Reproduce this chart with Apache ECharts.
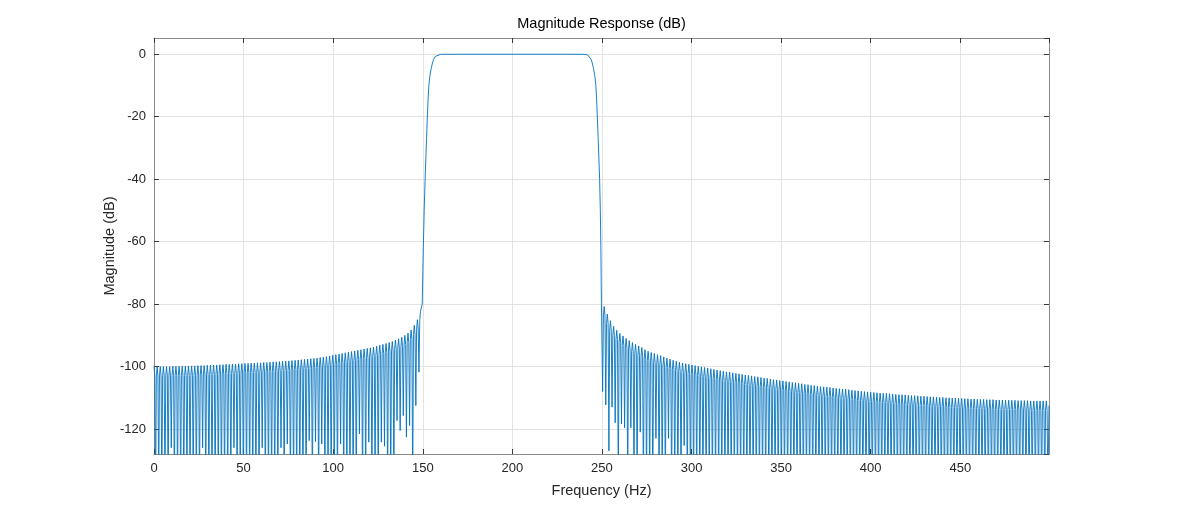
<!DOCTYPE html>
<html>
<head>
<meta charset="utf-8">
<script src="https://cdn.jsdelivr.net/npm/echarts@6/dist/echarts.min.js"></script>
<style>
html,body{margin:0;padding:0;background:#fff;}
#chart{width:1184px;height:511px;}
</style>
</head>
<body>
<div id="chart"></div>
<script>
// Stopband below 150 Hz: [frequency Hz, magnitude dB] (lobe shoulders, peaks and nulls)
const lowBand = [
[0,-100],[0.44,-103],[0.88,-140],
[1.31,-103],[1.75,-100],[2.19,-103],[2.63,-140],
[3.06,-103],[3.5,-100],[3.94,-103],[4.38,-140],
[4.81,-103],[5.25,-100],[5.69,-103],[6.13,-140],
[6.56,-103],[7,-100],[7.44,-103],[7.88,-140],
[8.31,-103],[8.75,-100],[9.19,-103],[9.63,-126],
[10.06,-102.9],[10.5,-99.9],[10.94,-102.9],[11.38,-140],
[11.81,-102.9],[12.25,-99.9],[12.69,-102.9],[13.13,-140],
[13.56,-102.9],[14,-99.9],[14.44,-102.9],[14.88,-140],
[15.31,-102.9],[15.75,-99.9],[16.19,-102.9],[16.63,-140],
[17.06,-102.9],[17.5,-99.9],[17.94,-102.9],[18.38,-140],
[18.81,-102.8],[19.25,-99.8],[19.69,-102.8],[20.13,-140],
[20.56,-102.8],[21,-99.8],[21.44,-102.8],[21.88,-140],
[22.31,-102.8],[22.75,-99.8],[23.19,-102.8],[23.63,-140],
[24.06,-102.7],[24.5,-99.7],[24.94,-102.7],[25.38,-140],
[25.81,-102.7],[26.25,-99.7],[26.69,-102.7],[27.13,-126],
[27.56,-102.7],[28,-99.7],[28.44,-102.7],[28.88,-140],
[29.31,-102.6],[29.75,-99.6],[30.19,-102.6],[30.63,-140],
[31.06,-102.6],[31.5,-99.6],[31.94,-102.6],[32.38,-140],
[32.81,-102.5],[33.25,-99.5],[33.69,-102.5],[34.13,-140],
[34.56,-102.5],[35,-99.5],[35.44,-102.5],[35.88,-140],
[36.31,-102.4],[36.75,-99.4],[37.19,-102.4],[37.63,-140],
[38.06,-102.4],[38.5,-99.4],[38.94,-102.4],[39.38,-140],
[39.81,-102.3],[40.25,-99.3],[40.69,-102.3],[41.13,-140],
[41.56,-102.3],[42,-99.3],[42.44,-102.3],[42.88,-140],
[43.31,-102.2],[43.75,-99.2],[44.19,-102.2],[44.63,-126],
[45.06,-102.2],[45.5,-99.2],[45.94,-102.2],[46.38,-140],
[46.81,-102.1],[47.25,-99.1],[47.69,-102.1],[48.13,-140],
[48.56,-102.1],[49,-99.1],[49.44,-102.1],[49.88,-140],
[50.31,-102],[50.75,-99],[51.19,-102],[51.63,-140],
[52.06,-102],[52.5,-99],[52.94,-102],[53.38,-140],
[53.81,-101.9],[54.25,-98.9],[54.69,-101.9],[55.13,-140],
[55.56,-101.9],[56,-98.9],[56.44,-101.9],[56.88,-140],
[57.31,-101.8],[57.75,-98.8],[58.19,-101.8],[58.63,-140],
[59.06,-101.8],[59.5,-98.8],[59.94,-101.8],[60.38,-126],
[60.81,-101.7],[61.25,-98.7],[61.69,-101.7],[62.13,-140],
[62.56,-101.7],[63,-98.7],[63.44,-101.7],[63.88,-140],
[64.31,-101.6],[64.75,-98.6],[65.19,-101.6],[65.63,-140],
[66.06,-101.5],[66.5,-98.5],[66.94,-101.5],[67.38,-140],
[67.81,-101.5],[68.25,-98.5],[68.69,-101.5],[69.13,-140],
[69.56,-101.4],[70,-98.4],[70.44,-101.4],[70.88,-126],
[71.31,-101.3],[71.75,-98.3],[72.19,-101.3],[72.63,-140],
[73.06,-101.3],[73.5,-98.3],[73.94,-101.3],[74.38,-124.8],
[74.81,-101.2],[75.25,-98.2],[75.69,-101.2],[76.13,-140],
[76.56,-101.1],[77,-98.1],[77.44,-101.1],[77.88,-140],
[78.31,-101],[78.75,-98],[79.19,-101],[79.63,-140],
[80.06,-100.9],[80.5,-97.9],[80.94,-100.9],[81.38,-140],
[81.81,-100.8],[82.25,-97.8],[82.69,-100.8],[83.13,-140],
[83.56,-100.7],[84,-97.7],[84.44,-100.7],[84.88,-140],
[85.31,-100.6],[85.75,-97.6],[86.19,-100.6],[86.63,-123.7],
[87.06,-100.5],[87.5,-97.5],[87.94,-100.5],[88.38,-140],
[88.81,-100.4],[89.25,-97.4],[89.69,-100.4],[90.13,-124],
[90.56,-100.3],[91,-97.3],[91.44,-100.3],[91.88,-140],
[92.31,-100.1],[92.75,-97.1],[93.19,-100.1],[93.63,-124.8],
[94.06,-100],[94.5,-97],[94.94,-100],[95.38,-140],
[95.81,-99.8],[96.25,-96.8],[96.69,-99.8],[97.13,-140],
[97.56,-99.6],[98,-96.6],[98.44,-99.6],[98.88,-140],
[99.31,-99.4],[99.75,-96.4],[100.19,-99.4],[100.63,-140],
[101.06,-99.2],[101.5,-96.2],[101.94,-99.2],[102.38,-140],
[102.81,-99],[103.25,-96],[103.69,-99],[104.13,-124.8],
[104.56,-98.8],[105,-95.8],[105.44,-98.8],[105.88,-140],
[106.31,-98.6],[106.75,-95.6],[107.19,-98.6],[107.63,-140],
[108.06,-98.4],[108.5,-95.4],[108.94,-98.4],[109.38,-140],
[109.81,-98.2],[110.25,-95.2],[110.69,-98.2],[111.13,-140],
[111.56,-98],[112,-95],[112.44,-98],[112.88,-140],
[113.31,-97.8],[113.75,-94.8],[114.19,-97.8],[114.63,-121.6],
[115.06,-97.6],[115.5,-94.6],[115.94,-97.6],[116.38,-140],
[116.81,-97.4],[117.25,-94.4],[117.69,-97.4],[118.13,-140],
[118.56,-97.2],[119,-94.2],[119.44,-97.2],[119.88,-124.2],
[120.31,-97],[120.75,-94],[121.19,-97],[121.63,-140],
[122.06,-96.8],[122.5,-93.8],[122.94,-96.8],[123.38,-140],
[123.81,-96.5],[124.25,-93.5],[124.69,-96.5],[125.13,-140],
[125.56,-96.2],[126,-93.2],[126.44,-96.2],[126.88,-124.2],
[127.31,-95.9],[127.75,-92.9],[128.19,-95.9],[128.63,-125.5],
[129.06,-95.6],[129.5,-92.6],[129.94,-95.6],[130.38,-140],
[130.81,-95.3],[131.25,-92.3],[131.69,-95.3],[132.13,-140],
[132.56,-95],[133,-92],[133.44,-95],[133.88,-140],
[134.31,-94.5],[134.75,-91.5],[135.19,-94.5],[135.63,-117.3],
[136.06,-94.1],[136.5,-91.1],[136.94,-94.1],[137.38,-120.5],
[137.81,-93.6],[138.25,-90.6],[138.69,-93.6],[139.13,-115.7],
[139.56,-93],[140,-90],[140.44,-93],[140.88,-122.6],
[141.31,-92.3],[141.75,-89.3],[142.19,-92.3],[142.63,-118.9],
[143.06,-91.3],[143.5,-88.3],[143.94,-91.3],[144.38,-140],
[144.81,-89.8],[145.25,-86.8],[145.69,-89.8],[146.13,-112.5],
[146.56,-88],[147,-85],[147.44,-88],[147.88,-101.8],
[148.31,-85.3],[148.75,-82.3]
];

// Passband with its two transition edges
const passBand = [
[149.7,-80],[150.3,-62],[150.8,-50],[151.3,-40],[151.8,-32],[152.1,-27],[152.5,-21],[153,-14],[153.4,-10],[154,-6.8],
[154.7,-4.6],[155.4,-2.8],[156.1,-1.6],[157,-0.7],[158,-0.2],[160,-0.02],[170,0],[230,0],[240,-0.02],[242,-0.2],
[243,-0.7],[243.9,-1.6],[244.6,-2.8],[245.3,-4.6],[246,-6.8],[246.6,-10],[247,-14],[247.5,-21],[247.9,-27],[248.2,-32],
[248.7,-40],[249.1,-50],[249.4,-62],[249.7,-79.5]
];

// Stopband above 250 Hz
const highBand = [
[250.38,-108],[250.81,-83.8],[251.25,-80.8],[251.69,-83.8],
[252.13,-112.3],[252.56,-86.2],[253,-83.2],[253.44,-86.2],
[253.88,-127],[254.31,-88.3],[254.75,-85.3],[255.19,-88.3],
[255.63,-113],[256.06,-90.1],[256.5,-87.1],[256.94,-90.1],
[257.38,-118],[257.81,-91.4],[258.25,-88.4],[258.69,-91.4],
[259.13,-140],[259.56,-92.4],[260,-89.4],[260.44,-92.4],
[260.88,-118.4],[261.31,-93.2],[261.75,-90.2],[262.19,-93.2],
[262.63,-119.6],[263.06,-94],[263.5,-91],[263.94,-94],
[264.38,-140],[264.81,-94.7],[265.25,-91.7],[265.69,-94.7],
[266.13,-119.6],[266.56,-95.3],[267,-92.3],[267.44,-95.3],
[267.88,-140],[268.31,-95.9],[268.75,-92.9],[269.19,-95.9],
[269.63,-140],[270.06,-96.4],[270.5,-93.4],[270.94,-96.4],
[271.38,-121],[271.81,-96.9],[272.25,-93.9],[272.69,-96.9],
[273.13,-140],[273.56,-97.6],[274,-94.6],[274.44,-97.6],
[274.88,-140],[275.31,-98.1],[275.75,-95.1],[276.19,-98.1],
[276.63,-140],[277.06,-98.5],[277.5,-95.5],[277.94,-98.5],
[278.38,-140],[278.81,-98.8],[279.25,-95.8],[279.69,-98.8],
[280.13,-123],[280.56,-99.2],[281,-96.2],[281.44,-99.2],
[281.88,-140],[282.31,-99.5],[282.75,-96.5],[283.19,-99.5],
[283.63,-140],[284.06,-99.9],[284.5,-96.9],[284.94,-99.9],
[285.38,-140],[285.81,-100.3],[286.25,-97.3],[286.69,-100.3],
[287.13,-123],[287.56,-100.6],[288,-97.6],[288.44,-100.6],
[288.88,-140],[289.31,-101],[289.75,-98],[290.19,-101],
[290.63,-140],[291.06,-101.3],[291.5,-98.3],[291.94,-101.3],
[292.38,-140],[292.81,-101.6],[293.25,-98.6],[293.69,-101.6],
[294.13,-140],[294.56,-101.9],[295,-98.9],[295.44,-101.9],
[295.88,-125.3],[296.31,-102.1],[296.75,-99.1],[297.19,-102.1],
[297.63,-140],[298.06,-102.3],[298.5,-99.3],[298.94,-102.3],
[299.38,-140],[299.81,-102.5],[300.25,-99.5],[300.69,-102.5],
[301.13,-140],[301.56,-102.7],[302,-99.7],[302.44,-102.7],
[302.88,-140],[303.31,-102.9],[303.75,-99.9],[304.19,-102.9],
[304.63,-140],[305.06,-103.1],[305.5,-100.1],[305.94,-103.1],
[306.38,-140],[306.81,-103.3],[307.25,-100.3],[307.69,-103.3],
[308.13,-140],[308.56,-103.5],[309,-100.5],[309.44,-103.5],
[309.88,-140],[310.31,-103.7],[310.75,-100.7],[311.19,-103.7],
[311.63,-140],[312.06,-103.9],[312.5,-100.9],[312.94,-103.9],
[313.38,-140],[313.81,-104.1],[314.25,-101.1],[314.69,-104.1],
[315.13,-140],[315.56,-104.3],[316,-101.3],[316.44,-104.3],
[316.88,-140],[317.31,-104.5],[317.75,-101.5],[318.19,-104.5],
[318.63,-140],[319.06,-104.7],[319.5,-101.7],[319.94,-104.7],
[320.38,-140],[320.81,-104.8],[321.25,-101.8],[321.69,-104.8],
[322.13,-140],[322.56,-105],[323,-102],[323.44,-105],
[323.88,-140],[324.31,-105.2],[324.75,-102.2],[325.19,-105.2],
[325.63,-140],[326.06,-105.3],[326.5,-102.3],[326.94,-105.3],
[327.38,-140],[327.81,-105.5],[328.25,-102.5],[328.69,-105.5],
[329.13,-140],[329.56,-105.7],[330,-102.7],[330.44,-105.7],
[330.88,-140],[331.31,-105.8],[331.75,-102.8],[332.19,-105.8],
[332.63,-140],[333.06,-106],[333.5,-103],[333.94,-106],
[334.38,-140],[334.81,-106.2],[335.25,-103.2],[335.69,-106.2],
[336.13,-140],[336.56,-106.3],[337,-103.3],[337.44,-106.3],
[337.88,-140],[338.31,-106.5],[338.75,-103.5],[339.19,-106.5],
[339.63,-140],[340.06,-106.7],[340.5,-103.7],[340.94,-106.7],
[341.38,-140],[341.81,-106.8],[342.25,-103.8],[342.69,-106.8],
[343.13,-140],[343.56,-107],[344,-104],[344.44,-107],
[344.88,-140],[345.31,-107.2],[345.75,-104.2],[346.19,-107.2],
[346.63,-140],[347.06,-107.3],[347.5,-104.3],[347.94,-107.3],
[348.38,-140],[348.81,-107.5],[349.25,-104.5],[349.69,-107.5],
[350.13,-140],[350.56,-107.6],[351,-104.6],[351.44,-107.6],
[351.88,-140],[352.31,-107.8],[352.75,-104.8],[353.19,-107.8],
[353.63,-140],[354.06,-107.9],[354.5,-104.9],[354.94,-107.9],
[355.38,-140],[355.81,-108.1],[356.25,-105.1],[356.69,-108.1],
[357.13,-140],[357.56,-108.2],[358,-105.2],[358.44,-108.2],
[358.88,-140],[359.31,-108.4],[359.75,-105.4],[360.19,-108.4],
[360.63,-140],[361.06,-108.5],[361.5,-105.5],[361.94,-108.5],
[362.38,-140],[362.81,-108.7],[363.25,-105.7],[363.69,-108.7],
[364.13,-140],[364.56,-108.8],[365,-105.8],[365.44,-108.8],
[365.88,-140],[366.31,-109],[366.75,-106],[367.19,-109],
[367.63,-140],[368.06,-109.1],[368.5,-106.1],[368.94,-109.1],
[369.38,-140],[369.81,-109.3],[370.25,-106.3],[370.69,-109.3],
[371.13,-140],[371.56,-109.4],[372,-106.4],[372.44,-109.4],
[372.88,-140],[373.31,-109.5],[373.75,-106.5],[374.19,-109.5],
[374.63,-140],[375.06,-109.6],[375.5,-106.6],[375.94,-109.6],
[376.38,-140],[376.81,-109.7],[377.25,-106.7],[377.69,-109.7],
[378.13,-140],[378.56,-109.9],[379,-106.9],[379.44,-109.9],
[379.88,-140],[380.31,-110],[380.75,-107],[381.19,-110],
[381.63,-140],[382.06,-110.1],[382.5,-107.1],[382.94,-110.1],
[383.38,-140],[383.81,-110.2],[384.25,-107.2],[384.69,-110.2],
[385.13,-140],[385.56,-110.3],[386,-107.3],[386.44,-110.3],
[386.88,-140],[387.31,-110.4],[387.75,-107.4],[388.19,-110.4],
[388.63,-140],[389.06,-110.6],[389.5,-107.6],[389.94,-110.6],
[390.38,-140],[390.81,-110.7],[391.25,-107.7],[391.69,-110.7],
[392.13,-140],[392.56,-110.8],[393,-107.8],[393.44,-110.8],
[393.88,-140],[394.31,-110.9],[394.75,-107.9],[395.19,-110.9],
[395.63,-140],[396.06,-111],[396.5,-108],[396.94,-111],
[397.38,-140],[397.81,-111.1],[398.25,-108.1],[398.69,-111.1],
[399.13,-140],[399.56,-111.2],[400,-108.2],[400.44,-111.2],
[400.88,-140],[401.31,-111.3],[401.75,-108.3],[402.19,-111.3],
[402.63,-140],[403.06,-111.4],[403.5,-108.4],[403.94,-111.4],
[404.38,-140],[404.81,-111.5],[405.25,-108.5],[405.69,-111.5],
[406.13,-140],[406.56,-111.6],[407,-108.6],[407.44,-111.6],
[407.88,-140],[408.31,-111.6],[408.75,-108.6],[409.19,-111.6],
[409.63,-140],[410.06,-111.7],[410.5,-108.7],[410.94,-111.7],
[411.38,-140],[411.81,-111.8],[412.25,-108.8],[412.69,-111.8],
[413.13,-140],[413.56,-111.9],[414,-108.9],[414.44,-111.9],
[414.88,-140],[415.31,-112],[415.75,-109],[416.19,-112],
[416.63,-140],[417.06,-112],[417.5,-109],[417.94,-112],
[418.38,-140],[418.81,-112.1],[419.25,-109.1],[419.69,-112.1],
[420.13,-140],[420.56,-112.2],[421,-109.2],[421.44,-112.2],
[421.88,-140],[422.31,-112.3],[422.75,-109.3],[423.19,-112.3],
[423.63,-140],[424.06,-112.3],[424.5,-109.3],[424.94,-112.3],
[425.38,-140],[425.81,-112.4],[426.25,-109.4],[426.69,-112.4],
[427.13,-140],[427.56,-112.5],[428,-109.5],[428.44,-112.5],
[428.88,-140],[429.31,-112.5],[429.75,-109.5],[430.19,-112.5],
[430.63,-140],[431.06,-112.6],[431.5,-109.6],[431.94,-112.6],
[432.38,-140],[432.81,-112.7],[433.25,-109.7],[433.69,-112.7],
[434.13,-140],[434.56,-112.7],[435,-109.7],[435.44,-112.7],
[435.88,-140],[436.31,-112.8],[436.75,-109.8],[437.19,-112.8],
[437.63,-140],[438.06,-112.9],[438.5,-109.9],[438.94,-112.9],
[439.38,-140],[439.81,-112.9],[440.25,-109.9],[440.69,-112.9],
[441.13,-140],[441.56,-113],[442,-110],[442.44,-113],
[442.88,-140],[443.31,-113],[443.75,-110],[444.19,-113],
[444.63,-140],[445.06,-113.1],[445.5,-110.1],[445.94,-113.1],
[446.38,-140],[446.81,-113.1],[447.25,-110.1],[447.69,-113.1],
[448.13,-140],[448.56,-113.2],[449,-110.2],[449.44,-113.2],
[449.88,-140],[450.31,-113.2],[450.75,-110.2],[451.19,-113.2],
[451.63,-140],[452.06,-113.3],[452.5,-110.3],[452.94,-113.3],
[453.38,-140],[453.81,-113.3],[454.25,-110.3],[454.69,-113.3],
[455.13,-140],[455.56,-113.4],[456,-110.4],[456.44,-113.4],
[456.88,-140],[457.31,-113.4],[457.75,-110.4],[458.19,-113.4],
[458.63,-140],[459.06,-113.5],[459.5,-110.5],[459.94,-113.5],
[460.38,-140],[460.81,-113.5],[461.25,-110.5],[461.69,-113.5],
[462.13,-140],[462.56,-113.5],[463,-110.5],[463.44,-113.5],
[463.88,-140],[464.31,-113.6],[464.75,-110.6],[465.19,-113.6],
[465.63,-140],[466.06,-113.6],[466.5,-110.6],[466.94,-113.6],
[467.38,-140],[467.81,-113.6],[468.25,-110.6],[468.69,-113.6],
[469.13,-140],[469.56,-113.7],[470,-110.7],[470.44,-113.7],
[470.88,-140],[471.31,-113.7],[471.75,-110.7],[472.19,-113.7],
[472.63,-140],[473.06,-113.7],[473.5,-110.7],[473.94,-113.7],
[474.38,-140],[474.81,-113.8],[475.25,-110.8],[475.69,-113.8],
[476.13,-140],[476.56,-113.8],[477,-110.8],[477.44,-113.8],
[477.88,-140],[478.31,-113.8],[478.75,-110.8],[479.19,-113.8],
[479.63,-140],[480.06,-113.8],[480.5,-110.8],[480.94,-113.8],
[481.38,-140],[481.81,-113.9],[482.25,-110.9],[482.69,-113.9],
[483.13,-140],[483.56,-113.9],[484,-110.9],[484.44,-113.9],
[484.88,-140],[485.31,-113.9],[485.75,-110.9],[486.19,-113.9],
[486.63,-140],[487.06,-113.9],[487.5,-110.9],[487.94,-113.9],
[488.38,-140],[488.81,-114],[489.25,-111],[489.69,-114],
[490.13,-140],[490.56,-114],[491,-111],[491.44,-114],
[491.88,-140],[492.31,-114],[492.75,-111],[493.19,-114],
[493.63,-140],[494.06,-114],[494.5,-111],[494.94,-114],
[495.38,-140],[495.81,-114],[496.25,-111],[496.69,-114],
[497.13,-140],[497.56,-114],[498,-111],[498.44,-114],
[498.88,-140],[499.5,-112.5]
];

const xRange = [0, 499.5];
const yRange = [-128, 5.2];
const xTickStep = 50;
const yTickStep = 20;
const titleText = 'Magnitude Response (dB)';
const xName = 'Frequency (Hz)';
const yName = 'Magnitude (dB)';

const FONT = '"Liberation Sans", Arial, Helvetica, sans-serif';
const frameColor = '#8a8a8a';
const tickColor = '#3a3a3a';
const gridColor = '#e3e3e3';
const labelColor = '#262626';

const chart = echarts.init(document.getElementById('chart'), null, {renderer: 'canvas'});

const plotLeft = 154, plotTop = 38, plotW = 895, plotH = 416;

const baseX = {
  type: 'value', min: xRange[0], max: xRange[1], interval: xTickStep,
  gridIndex: 0
};
const baseY = {
  type: 'value', min: yRange[0], max: yRange[1],
  splitNumber: 7, minInterval: yTickStep, maxInterval: yTickStep,
  gridIndex: 0
};

chart.setOption({
  animation: false,
  backgroundColor: '#ffffff',
  grid: {left: plotLeft, top: plotTop, width: plotW, height: plotH, containLabel: false},
  graphic: [{
    type: 'text', x: plotLeft + plotW / 2, y: 24, silent: true,
    style: {text: titleText, fill: '#000', font: '14.5px ' + FONT, textAlign: 'center', textVerticalAlign: 'middle'}
  }],
  xAxis: [
    Object.assign({}, baseX, {
      position: 'bottom',
      name: xName, nameLocation: 'middle', nameGap: 29, nameMoveOverlap: false,
      nameTextStyle: {color: labelColor, fontSize: 14.5, fontFamily: FONT},
      axisLine: {show: true, onZero: false, lineStyle: {color: frameColor, width: 1}},
      axisTick: {show: true, inside: true, length: 5, lineStyle: {color: tickColor, width: 1}},
      axisLabel: {show: true, color: labelColor, fontSize: 13, fontFamily: FONT, margin: 8, showMaxLabel: false, showMinLabel: true},
      splitLine: {show: true, lineStyle: {color: gridColor, width: 1}}
    }),
    Object.assign({}, baseX, {
      position: 'top',
      axisLine: {show: true, onZero: false, lineStyle: {color: frameColor, width: 1}},
      axisTick: {show: true, inside: true, length: 5, lineStyle: {color: tickColor, width: 1}},
      axisLabel: {show: false},
      splitLine: {show: false}
    })
  ],
  yAxis: [
    Object.assign({}, baseY, {
      position: 'left',
      name: yName, nameLocation: 'middle', nameGap: 37, nameRotate: 90, nameMoveOverlap: false,
      nameTextStyle: {color: labelColor, fontSize: 14.5, fontFamily: FONT},
      axisLine: {show: true, onZero: false, lineStyle: {color: frameColor, width: 1}},
      axisTick: {show: true, inside: true, length: 5, lineStyle: {color: tickColor, width: 1}},
      axisLabel: {show: true, color: labelColor, fontSize: 13, fontFamily: FONT, margin: 8, showMinLabel: false, showMaxLabel: false},
      splitLine: {show: true, lineStyle: {color: gridColor, width: 1}}
    }),
    Object.assign({}, baseY, {
      position: 'right',
      axisLine: {show: true, onZero: false, lineStyle: {color: frameColor, width: 1}},
      axisTick: {show: true, inside: true, length: 5, lineStyle: {color: tickColor, width: 1}},
      axisLabel: {show: false},
      splitLine: {show: false}
    })
  ],
  series: [{
    type: 'line',
    xAxisIndex: 0, yAxisIndex: 0,
    data: lowBand.concat(passBand, highBand),
    showSymbol: false, symbol: 'none',
    clip: true,
    lineStyle: {color: '#0072BD', width: 0.9},
    silent: true
  }]
});
</script>
</body>
</html>
